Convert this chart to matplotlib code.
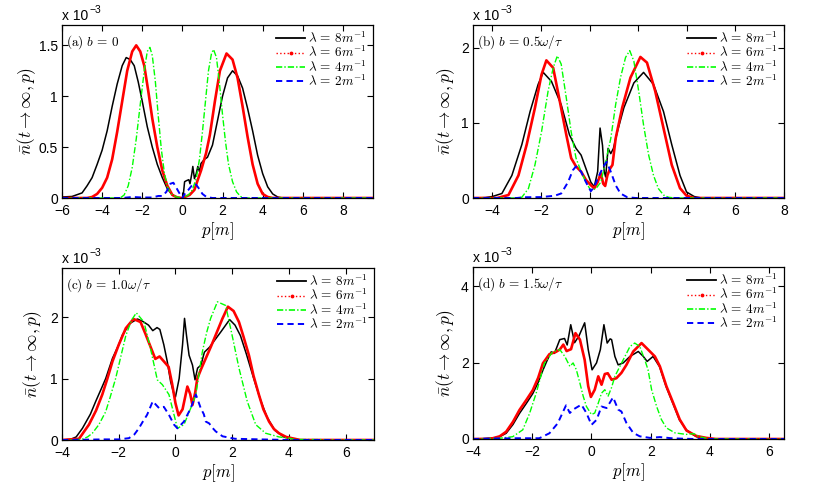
import matplotlib
matplotlib.use("Agg")
import matplotlib.pyplot as plt
from matplotlib.lines import Line2D

plt.rcParams['font.family'] = ['Liberation Sans', 'DejaVu Sans']
plt.rcParams['mathtext.fontset'] = 'cm'
plt.rcParams['lines.scale_dashes'] = False

# ---------------- data (values in units of 1e-3) ----------------
# panel (a) b = 0
a_x8 = [-6, -5.5, -5.0, -4.75, -4.5, -4.25, -4.0, -3.75, -3.5, -3.25, -3.0, -2.8, -2.6, -2.4, -2.2,
        -2.0, -1.75, -1.5, -1.25, -1.0, -0.75, -0.5, -0.25, 0.03, 0.11, 0.2, 0.32, 0.38, 0.47, 0.52,
        0.6, 0.69, 0.77, 0.85, 0.93, 1.1, 1.25, 1.5, 1.75, 2.0, 2.25, 2.5, 2.75, 3.0, 3.25, 3.5,
        3.75, 4.0, 4.25, 4.5, 4.75, 5.0, 9.5]
a_y8 = [0.01, 0.015, 0.05, 0.12, 0.2, 0.33, 0.47, 0.66, 0.9, 1.12, 1.3, 1.38, 1.36, 1.3, 1.14,
        0.95, 0.7, 0.5, 0.33, 0.2, 0.09, 0.03, 0.005, 0.0, 0.16, 0.17, 0.18, 0.14, 0.24, 0.31,
        0.19, 0.24, 0.31, 0.26, 0.34, 0.38, 0.4, 0.52, 0.76, 1.0, 1.18, 1.25, 1.2, 1.08, 0.88, 0.66,
        0.42, 0.24, 0.11, 0.04, 0.01, 0.0, 0.0]
a_x6 = [-6, -4.75, -4.5, -4.25, -4.0, -3.75, -3.5, -3.25, -3.0, -2.75, -2.5, -2.3, -2.1, -1.9,
        -1.7, -1.5, -1.25, -1.0, -0.75, -0.5, -0.25, 0.0, 0.36, 0.6, 0.77, 0.93, 1.18, 1.37, 1.62,
        1.87, 2.2, 2.5, 2.75, 3.0, 3.25, 3.5, 3.75, 4.0, 4.25, 4.5, 9.5]
a_y6 = [0, 0.0, 0.01, 0.04, 0.1, 0.2, 0.38, 0.65, 0.95, 1.25, 1.44, 1.5, 1.44, 1.3,
        1.05, 0.78, 0.5, 0.27, 0.12, 0.03, 0.005, 0.0, 0.03, 0.08, 0.18, 0.27, 0.44, 0.62, 0.95,
        1.25, 1.42, 1.36, 1.18, 0.9, 0.6, 0.33, 0.14, 0.04, 0.01, 0.0, 0]
a_x4 = [-6, -3.1, -2.9, -2.7, -2.5, -2.3, -2.1, -1.9, -1.75, -1.62, -1.5, -1.35, -1.2, -1.05, -0.9,
        -0.75, -0.55, -0.3, 0.0, 0.3, 0.5, 0.7, 0.85, 1.0, 1.15, 1.3, 1.45, 1.55, 1.7, 1.85, 2.0,
        2.15, 2.3, 2.5, 2.7, 2.9, 3.1, 9.5]
a_y4 = [0, 0.0, 0.03, 0.12, 0.3, 0.58, 0.92, 1.25, 1.44, 1.48, 1.4, 1.15, 0.8, 0.48, 0.25,
        0.11, 0.04, 0.01, 0.0, 0.03, 0.08, 0.2, 0.38, 0.65, 0.95, 1.25, 1.42, 1.46, 1.38, 1.12, 0.82,
        0.55, 0.33, 0.16, 0.06, 0.015, 0.0, 0]
a_x2 = [-6, -3.0, -2.5, -2.0, -1.5, -1.2, -1.0, -0.8, -0.6, -0.45, -0.3, -0.1, 0.0, 0.15, 0.3,
        0.5, 0.65, 0.8, 1.0, 1.2, 1.5, 9.5]
a_y2 = [0, 0.0, 0.01, 0.005, 0.005, 0.02, 0.02, 0.06, 0.14, 0.15, 0.1, 0.03, 0.0, 0.05, 0.08,
        0.13, 0.14, 0.1, 0.04, 0.01, 0.0, 0]

# panel (b) b = 0.5 w/tau
b_x8 = [-4.8, -4.3, -4.0, -3.61, -3.2, -2.79, -2.45, -2.12, -1.91, -1.57, -1.17, -0.83, -0.56,
        -0.35, -0.15, 0.05, 0.19, 0.33, 0.43, 0.53, 0.6, 0.66, 0.76, 0.87, 0.98, 1.14, 1.41, 1.82,
        2.22, 2.63, 3.04, 3.38, 3.72, 3.99, 4.3, 4.6, 8]
b_y8 = [0, 0.005, 0.02, 0.06, 0.3, 0.71, 1.15, 1.51, 1.67, 1.55, 1.24, 0.84, 0.66,
        0.57, 0.39, 0.21, 0.15, 0.35, 0.93, 0.7, 0.35, 0.28, 0.66, 0.59, 0.66, 0.88, 1.2, 1.53,
        1.67, 1.51, 1.15, 0.71, 0.3, 0.08, 0.02, 0.0, 0]
b_x6 = [-4.8, -3.8, -3.34, -2.93, -2.59, -2.25, -1.98, -1.78, -1.5, -1.23, -0.96, -0.76, -0.56,
        -0.35, -0.15, 0.05, 0.19, 0.33, 0.46, 0.56, 0.64, 0.73, 0.84, 0.94, 1.07, 1.34, 1.68, 2.09,
        2.36, 2.7, 3.04, 3.38, 3.72, 3.99, 4.3, 8]
b_y6 = [0, 0.0, 0.04, 0.3, 0.71, 1.2, 1.64, 1.83, 1.73, 1.29, 0.84, 0.53, 0.42,
        0.35, 0.24, 0.17, 0.13, 0.21, 0.33, 0.19, 0.16, 0.3, 0.39, 0.44, 0.79, 1.2, 1.6, 1.875,
        1.8, 1.42, 0.93, 0.44, 0.13, 0.03, 0.0, 0]
b_x4 = [-4.8, -3.0, -2.79, -2.52, -2.25, -1.98, -1.71, -1.5, -1.33, -1.17, -0.96, -0.76, -0.56,
        -0.35, -0.15, 0.05, 0.26, 0.46, 0.66, 0.87, 1.07, 1.27, 1.48, 1.65, 1.82, 2.02, 2.22, 2.43,
        2.63, 2.83, 3.04, 3.24, 3.5, 8]
b_y4 = [0, 0.0, 0.01, 0.125, 0.44, 0.88, 1.42, 1.73, 1.89, 1.78, 1.33, 0.88, 0.53,
        0.35, 0.21, 0.1, 0.125, 0.21, 0.48, 0.79, 1.24, 1.6, 1.87, 1.96, 1.82, 1.42, 0.97, 0.57,
        0.3, 0.125, 0.04, 0.01, 0.0, 0]
b_x2 = [-4.8, -3.0, -2.7, -2.0, -1.44, -1.17, -0.89, -0.69, -0.56, -0.35, -0.15, 0.05, 0.19,
        0.39, 0.57, 0.7, 0.87, 1.07, 1.27, 1.55, 1.9, 8]
b_y2 = [0, 0.0, 0.01, 0.012, 0.03, 0.06, 0.21, 0.37, 0.42, 0.35, 0.21, 0.09, 0.15,
        0.3, 0.42, 0.48, 0.35, 0.17, 0.06, 0.01, 0.0, 0]

# panel (c) b = 1.0 w/tau
c_x8 = [-4, -3.7, -3.5, -3.28, -3.0, -2.81, -2.6, -2.46, -2.22, -2.0, -1.87, -1.6, -1.34, -1.15,
        -0.95, -0.8, -0.65, -0.55, -0.41, -0.29, -0.17, -0.05, 0.0, 0.13, 0.25, 0.32, 0.39, 0.48,
        0.6, 0.69, 0.78, 0.9, 1.02, 1.2, 1.6, 1.91, 2.1, 2.29, 2.5, 2.76, 3.0, 3.23, 3.5, 3.82,
        4.17, 4.5, 7]
c_y8 = [0, 0.01, 0.05, 0.19, 0.42, 0.63, 0.85, 1.0, 1.33, 1.55, 1.71, 1.9, 1.97, 1.93,
        1.87, 1.78, 1.83, 1.8, 1.55, 1.28, 0.95, 0.74, 0.7, 1.0, 1.55, 1.98, 1.7, 1.38,
        1.22, 0.98, 1.17, 1.22, 1.43, 1.51, 1.76, 1.96, 1.87, 1.7, 1.4, 1.0, 0.65, 0.37, 0.16, 0.05,
        0.01, 0.0, 0]
c_x6 = [-4, -3.4, -3.05, -2.8, -2.58, -2.4, -2.22, -2.0, -1.75, -1.48, -1.23, -1.06, -0.83,
        -0.71, -0.56, -0.39, -0.24, -0.12, 0.0, 0.11, 0.25, 0.42, 0.52, 0.6, 0.7, 0.77, 0.9, 1.07,
        1.25, 1.42, 1.65, 1.85, 2.05, 2.24, 2.4, 2.59, 2.75, 2.94, 3.1, 3.3, 3.47, 3.65, 3.9, 4.1,
        4.4, 7]
c_y6 = [0, 0.02, 0.25, 0.48, 0.74, 1.0, 1.28, 1.55, 1.82, 1.97, 1.92, 1.73, 1.46,
        1.32, 1.36, 1.27, 1.19, 0.92, 0.6, 0.4, 0.5, 0.87, 0.75, 0.57, 0.78, 1.0, 1.15, 1.33,
        1.52, 1.71, 1.97, 2.17, 2.1, 1.92, 1.68, 1.38, 1.05, 0.74, 0.5, 0.3, 0.18, 0.11, 0.05, 0.03,
        0.0, 0]
c_x4 = [-4, -3.3, -3.1, -2.93, -2.7, -2.46, -2.3, -2.11, -1.93, -1.75, -1.55, -1.38, -1.11, -0.88,
        -0.64, -0.46, -0.23, -0.05, 0.07, 0.3, 0.54, 0.72, 0.95, 1.1, 1.24, 1.48, 1.77, 2.0, 2.24,
        2.53, 2.83, 3.18, 3.65, 4.0, 4.2, 7]
c_y4 = [0, 0.01, 0.05, 0.11, 0.25, 0.46, 0.7, 1.0, 1.35, 1.7, 1.95, 2.07, 1.92, 1.49,
        0.98, 0.9, 0.74, 0.41, 0.19, 0.25, 0.52, 0.74, 1.44, 1.75, 1.98, 2.25, 2.19, 1.7, 1.17,
        0.63, 0.25, 0.11, 0.05, 0.03, 0.01, 0]
c_x2 = [-4, -2.5, -2.0, -1.64, -1.45, -1.29, -1.15, -1.0, -0.8, -0.58, -0.41, -0.23, -0.05, 0.07,
        0.3, 0.54, 0.72, 0.89, 1.0, 1.07, 1.19, 1.3, 1.42, 1.66, 2.1, 3.0, 4.0, 7]
c_y2 = [0, 0.01, 0.01, 0.03, 0.09, 0.19, 0.3, 0.41, 0.63, 0.52, 0.54, 0.41, 0.25, 0.19,
        0.3, 0.52, 0.74, 0.52, 0.42, 0.3, 0.27, 0.2, 0.14, 0.06, 0.02, 0.01, 0.0, 0]

# panel (d) b = 1.5 w/tau
d_x8 = [-4, -3.33, -3.1, -2.88, -2.65, -2.43, -2.2, -1.98, -1.8, -1.64, -1.5, -1.36, -1.25, -1.07,
        -0.91, -0.82, -0.7, -0.57, -0.42, -0.23, -0.11, 0.02, 0.17, 0.3, 0.42, 0.53, 0.63, 0.68,
        0.79, 0.9, 1.07, 1.3, 1.58, 1.75, 1.88, 2.08, 2.3, 2.52, 2.75, 2.97, 3.2, 3.54, 3.87, 4.2,
        6.5]
d_y8 = [0, 0.02, 0.06, 0.15, 0.38, 0.67, 0.93, 1.19, 1.48, 1.8, 2.05, 2.28, 2.24, 2.6,
        2.63, 2.46, 2.99, 2.52, 2.7, 3.04, 2.34, 1.81, 1.99, 2.34, 2.99, 2.51, 2.62, 2.6,
        2.16, 1.94, 1.99, 2.16, 2.29, 2.16, 2.03, 2.16, 1.89, 1.37, 0.93, 0.5, 0.24, 0.06, 0.02, 0.0,
        0]
d_x6 = [-4, -3.6, -3.33, -3.1, -2.88, -2.65, -2.43, -2.2, -1.98, -1.8, -1.64, -1.42, -1.2, -1.07,
        -0.95, -0.84, -0.69, -0.54, -0.39, -0.23, -0.11, -0.02, 0.11, 0.23, 0.34, 0.45, 0.55,
        0.68, 0.84, 1.01, 1.18, 1.41, 1.69, 1.91, 2.14, 2.31, 2.53, 2.76, 2.98, 3.21, 3.54, 3.87,
        4.2, 6.5]
d_y6 = [0, 0.0, 0.02, 0.07, 0.19, 0.45, 0.76, 1.02, 1.28, 1.6, 1.98, 2.22, 2.28, 2.34,
        2.47, 2.3, 2.35, 2.77, 2.6, 2.07, 1.38, 1.1, 1.29, 1.64, 1.42, 1.7, 1.72,
        1.55, 1.59, 1.73, 1.94, 2.29, 2.51, 2.34, 2.16, 1.9, 1.38, 0.94, 0.51, 0.22, 0.08, 0.03,
        0.0, 0]
d_x4 = [-4, -3.1, -2.66, -2.32, -2.09, -1.87, -1.59, -1.31, -1.07, -0.9, -0.73, -0.62, -0.51,
        -0.39, -0.28, -0.17, 0.0, 0.11, 0.23, 0.34, 0.45, 0.56, 0.68, 0.79, 0.96, 1.13, 1.3, 1.46,
        1.63, 1.8, 1.91, 2.03, 2.2, 2.36, 2.53, 2.82, 3.2, 3.45, 3.65, 3.87, 4.2, 6.5]
d_y4 = [0, 0.02, 0.06, 0.24, 0.67, 1.19, 1.98, 2.28, 2.34, 2.16, 1.9, 1.99, 1.81,
        1.46, 1.12, 0.85, 0.64, 0.68, 0.94, 1.2, 1.29, 1.12, 1.35, 1.64, 1.9, 2.16, 2.42, 2.51,
        2.42, 2.07, 1.81, 1.29, 0.85, 0.51, 0.29, 0.16, 0.12, 0.14, 0.06, 0.02, 0.0, 0]
d_x2 = [-4, -3.5, -2.5, -1.76, -1.42, -1.14, -0.86, -0.73, -0.62, -0.34, -0.17, 0.0, 0.17, 0.34,
        0.51, 0.73, 0.9, 1.01, 1.18, 1.41, 1.63, 1.97, 2.31, 2.7, 3.0, 3.5, 6.5]
d_y2 = [0, 0.01, 0.02, 0.02, 0.15, 0.41, 0.88, 0.68, 0.77, 0.9, 0.68, 0.37, 0.5, 0.85,
        0.81, 1.09, 0.77, 0.72, 0.42, 0.16, 0.07, 0.03, 0.05, 0.02, 0.01, 0.0, 0]

lambda_labels = [r'$\lambda\,=\,8m^{-1}$', r'$\lambda\,=\,6m^{-1}$',
                 r'$\lambda\,=\,4m^{-1}$', r'$\lambda\,=\,2m^{-1}$']
panel_titles = [r'$\mathrm{(a)}\ b\,=\,0$', r'$\mathrm{(b)}\ b\,=\,0.5\omega/\tau$',
                r'$\mathrm{(c)}\ b\,=\,1.0\omega/\tau$', r'$\mathrm{(d)}\ b\,=\,1.5\omega/\tau$']
xlims = [(-6, 9.5), (-4.8, 8), (-4, 7), (-4, 6.5)]
ylims = [(0, 1.7), (0, 2.3), (0, 2.8), (0, 4.5)]
xticks = [[-6, -4, -2, 0, 2, 4, 6, 8], [-4, -2, 0, 2, 4, 6, 8], [-4, -2, 0, 2, 4, 6], [-4, -2, 0, 2, 4, 6]]
yticks = [[0, 0.5, 1, 1.5], [0, 1, 2], [0, 1, 2], [0, 2, 4]]
ytick_labels = [['0', '0.5', '1', '1.5'], ['0', '1', '2'], ['0', '1', '2'], ['0', '2', '4']]

series = [
    [(a_x8, a_y8), (a_x6, a_y6), (a_x4, a_y4), (a_x2, a_y2)],
    [(b_x8, b_y8), (b_x6, b_y6), (b_x4, b_y4), (b_x2, b_y2)],
    [(c_x8, c_y8), (c_x6, c_y6), (c_x4, c_y4), (c_x2, c_y2)],
    [(d_x8, d_y8), (d_x6, d_y6), (d_x4, d_y4), (d_x2, d_y2)],
]

W, H = 830, 495
boxes = [(62, 25, 311, 173), (473, 25, 311, 173), (62, 268, 312, 172), (473, 267, 311, 172)]
ylab_x = [-0.078, -0.05, -0.058, -0.05]

fig = plt.figure(figsize=(8.3, 4.95), dpi=100)

styles = [
    dict(color='black', lw=1.1, ls='-'),
    dict(color='red', lw=1.9, ls='-'),
    dict(color=(0, 1, 0), lw=1.0, ls=(0, (4.5, 1.5, 1.0, 1.5))),
    dict(color='blue', lw=1.4, ls=(0, (4.5, 3))),
]

for i in range(4):
    l, t, w, h = boxes[i]
    ax = fig.add_axes([l / W, 1 - (t + h) / H, w / W, h / H])
    for j, (xs, ys) in enumerate(series[i]):
        ax.plot(xs, ys, **styles[j])
    ax.set_xlim(*xlims[i])
    ax.set_ylim(*ylims[i])
    ax.set_xticks(xticks[i])
    ax.set_yticks(yticks[i])
    ax.set_yticklabels(ytick_labels[i])
    ax.tick_params(direction='in', top=True, right=True, length=4, width=0.8,
                   labelsize=10, pad=3)
    ax.tick_params(axis='x', pad=4.4)
    for sp in ax.spines.values():
        sp.set_linewidth(0.9)
    ax.set_xlabel(r'$p[m]$', fontsize=12)
    ax.xaxis.set_label_coords(0.5, -0.128)
    ax.xaxis.label.set_verticalalignment('top')
    ax.set_ylabel(r'$\bar{n}(t\rightarrow\infty,p)$', fontsize=12.5)
    ax.yaxis.set_label_coords(ylab_x[i], 0.5)
    ax.text(0.013, 0.90, panel_titles[i], transform=ax.transAxes, fontsize=9.5,
            ha='left', va='center')
    ax.annotate('x 10', xy=(0, 1), xycoords='axes fraction', xytext=(0, 1.5),
                textcoords='offset points', ha='left', va='bottom', fontsize=10)
    ax.annotate('\u22123', xy=(0, 1), xycoords='axes fraction', xytext=(19.5, 7),
                textcoords='offset points', ha='left', va='bottom', fontsize=7.5)
    handles = [
        Line2D([], [], color='black', lw=1.3, ls='-'),
        Line2D([], [], color='red', lw=1.0, ls=':', marker='.', markersize=3.5),
        Line2D([], [], color=(0, 1, 0), lw=1.2, ls=(0, (4.5, 1.5, 1.0, 1.5))),
        Line2D([], [], color='blue', lw=1.4, ls=(0, (4.5, 3))),
    ]
    ax.legend(handles, lambda_labels, loc='upper right', bbox_to_anchor=(0.985, 0.975),
              frameon=False, fontsize=9.5, handlelength=2.2, handletextpad=0.25,
              labelspacing=-0.08, borderpad=0.1, borderaxespad=0.0, numpoints=1)

fig.savefig('out.png', dpi=100)
